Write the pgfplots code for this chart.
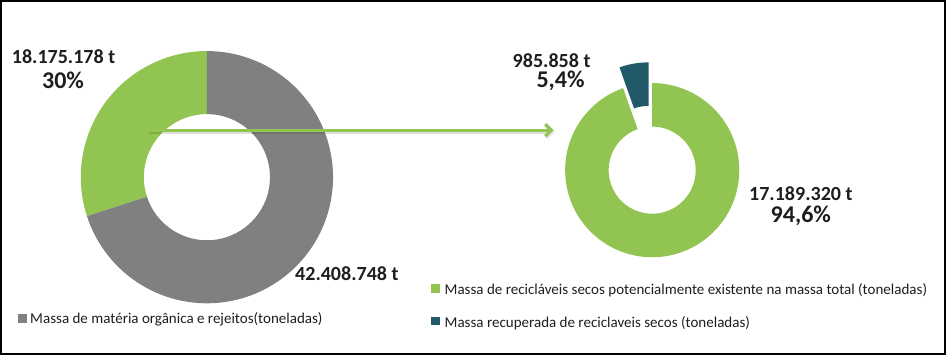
\documentclass[border=0pt]{standalone}
\usepackage{pgfplots}
\pgfplotsset{compat=1.18}
\usepackage{fontspec}
\setmainfont{Carlito}
\usetikzlibrary{arrows.meta}
\definecolor{cgreen}{RGB}{146,196,82}
\definecolor{cgray}{RGB}{128,128,128}
\definecolor{cteal}{RGB}{33,89,104}
\definecolor{ctext}{RGB}{30,30,30}

% data, in millions of tonnes
\def\orgL{42.408748}  % Massa de matéria orgânica e rejeitos
\def\recL{18.175178}  % recicláveis secos (total)
\def\recR{0.985858}   % recuperada
\def\potR{17.189320}  % potencialmente existente (não recuperada)

% ring sector: colour, cx, cy, R, r, angle1, angle2
\newcommand{\ring}[7]{%
\addplot[fill=#1, draw=none, samples at={0,1,...,200}, variable=\t]
 ({#2+ifthenelse(\t<100.5,#4,#5)*cos(ifthenelse(\t<100.5,#6+(#7-#6)*\t/100,#7-(#7-#6)*(\t-101)/99))},
  {#3+ifthenelse(\t<100.5,#4,#5)*sin(ifthenelse(\t<100.5,#6+(#7-#6)*\t/100,#7-(#7-#6)*(\t-101)/99))}) -- cycle;}

\begin{document}
\begin{tikzpicture}
\pgfmathsetmacro{\aL}{90+360*\recL/(\recL+\orgL)}
\pgfmathsetmacro{\aR}{90+360*\recR/(\recR+\potR)}
\pgfmathsetmacro{\mR}{(90+\aR)/2}
\pgfmathsetmacro{\ex}{651.5+21*cos(\mR)}
\pgfmathsetmacro{\ey}{186+21*sin(\mR)}
\begin{axis}[
  x=1pt, y=1pt, xmin=0, xmax=946, ymin=0, ymax=356,
  scale only axis, hide axis, clip=false,
]
% border
\addplot[black, line width=2pt] coordinates {(1,355) (944,355) (944,2) (1,2)} -- cycle;

% left donut
\ring{cgreen}{206.7}{179}{126}{63}{90}{\aL}
\ring{cgray}{206.7}{179}{126}{63}{\aL}{450}

% right donut
\ring{cgreen}{651.5}{186}{87}{43.5}{\aR}{450}
\ring{cteal}{\ex}{\ey}{87}{43.5}{90}{\aR}

% arrow
\addplot[black, opacity=0.12, line width=3.5pt, -{Straight Barb[length=6pt,width=12pt]}] coordinates {(149,224.3) (554,224.3)};
\addplot[cgreen, line width=3.2pt, -{Straight Barb[length=6pt,width=12pt]}] coordinates {(148,226) (553,226)};

% legend squares
\addplot[only marks, mark=square*, mark size=3.8pt, cgray] coordinates {(22,38)};
\addplot[only marks, mark=square*, mark size=3.8pt, cgreen] coordinates {(435,68)};
\addplot[only marks, mark=square*, mark size=3.8pt, cteal] coordinates {(435,35.5)};

% legend texts
\node[anchor=base west, text=ctext, font=\fontsize{15}{18}\selectfont, inner sep=0pt] at (axis cs:30,32.7) {Massa de matéria orgânica e rejeitos(toneladas)};
\node[anchor=base west, text=ctext, font=\fontsize{15}{18}\selectfont, inner sep=0pt] at (axis cs:444,62) {Massa de recicláveis secos potencialmente existente na massa total (toneladas)};
\node[anchor=base west, text=ctext, font=\fontsize{15}{18}\selectfont, inner sep=0pt] at (axis cs:444,29.3) {Massa recuperada de reciclaveis secos (toneladas)};

% data labels
\node[anchor=base, text=ctext, font=\fontsize{20}{24}\selectfont\bfseries, inner sep=0pt] at (axis cs:63.5,292.7) {18.175.178 t};
\node[anchor=base, text=ctext, font=\fontsize{24}{28}\selectfont\bfseries, inner sep=0pt] at (axis cs:63,267.7) {30\%};
\node[anchor=base, text=ctext, font=\fontsize{20}{24}\selectfont\bfseries, inner sep=0pt] at (axis cs:346.5,76) {42.408.748 t};
\node[anchor=base, text=ctext, font=\fontsize{20}{24}\selectfont\bfseries, inner sep=0pt] at (axis cs:551,289) {985.858 t};
\node[anchor=base, text=ctext, font=\fontsize{24}{28}\selectfont\bfseries, inner sep=0pt] at (axis cs:560,268.7) {5,4\%};
\node[anchor=base, text=ctext, font=\fontsize{20}{24}\selectfont\bfseries, inner sep=0pt] at (axis cs:800,156) {17.189.320 t};
\node[anchor=base, text=ctext, font=\fontsize{24}{28}\selectfont\bfseries, inner sep=0pt] at (axis cs:800,133.3) {94,6\%};
\end{axis}
\end{tikzpicture}
\end{document}
